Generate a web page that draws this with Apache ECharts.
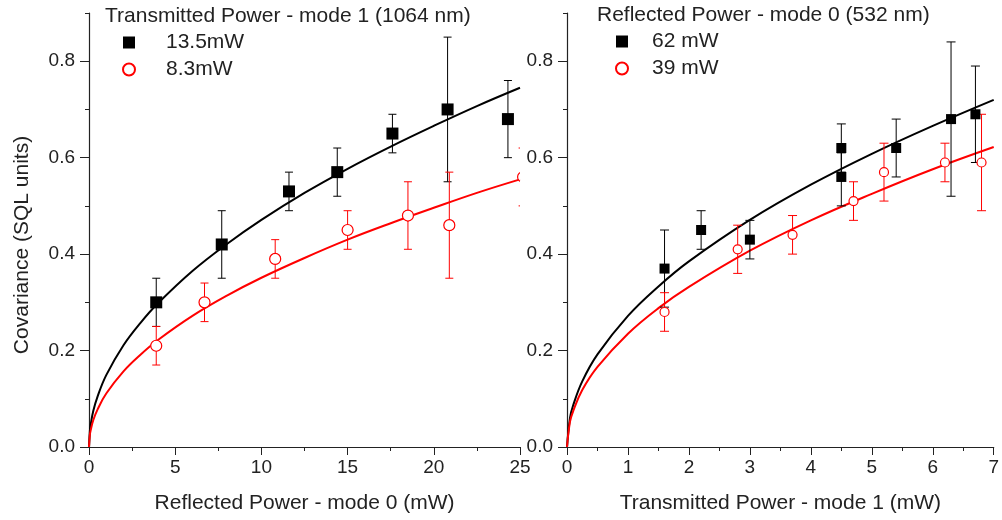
<!DOCTYPE html>
<html>
<head>
<meta charset="utf-8">
<script src="https://cdn.jsdelivr.net/npm/echarts@6/dist/echarts.min.js"></script>
<style>
  html, body { margin: 0; padding: 0; background: #fff; }
  #chart { width: 1002px; height: 520px; }
</style>
</head>
<body>
<div id="chart"></div>
<script>
// left panel: vs reflected power (mode 0)
const leftBlackX = [3.9, 7.7, 11.6, 14.4, 17.6, 20.8, 24.3]
const leftBlackY = [0.30, 0.42, 0.53, 0.57, 0.65, 0.70, 0.68]
const leftBlackLo = [0.25, 0.35, 0.49, 0.52, 0.61, 0.55, 0.60]
const leftBlackHi = [0.35, 0.49, 0.57, 0.62, 0.69, 0.85, 0.76]

const leftRedX = [3.9, 6.7, 10.8, 15.0, 18.5, 20.9, 25.15]
const leftRedY = [0.21, 0.30, 0.39, 0.45, 0.48, 0.46, 0.56]
const leftRedLo = [0.17, 0.26, 0.35, 0.41, 0.41, 0.35, 0.50]
const leftRedHi = [0.25, 0.34, 0.43, 0.49, 0.55, 0.57, 0.62]

// fit curves
const leftFitX = [0, 0.05, 0.1, 0.25, 0.5, 1, 2, 3, 4, 6, 8, 10, 12.5, 15, 17.5, 20, 22.5, 25]
const leftFitBlack = [0, 0.033, 0.047, 0.075, 0.105, 0.149, 0.211, 0.258, 0.298, 0.365, 0.421, 0.471, 0.527, 0.577, 0.623, 0.666, 0.707, 0.745]
const leftFitRed = [0, 0.025, 0.035, 0.056, 0.078, 0.111, 0.157, 0.192, 0.222, 0.272, 0.314, 0.351, 0.392, 0.430, 0.464, 0.496, 0.527, 0.555]

// right panel: vs transmitted power (mode 1)
const rightBlackX = [1.6, 2.2, 3.0, 4.5, 4.5, 5.4, 6.3, 6.7]
const rightBlackY = [0.37, 0.45, 0.43, 0.62, 0.56, 0.62, 0.68, 0.69]
const rightBlackLo = [0.29, 0.41, 0.39, 0.57, 0.50, 0.56, 0.52, 0.59]
const rightBlackHi = [0.45, 0.49, 0.47, 0.67, 0.61, 0.68, 0.84, 0.79]

const rightRedX = [1.6, 2.8, 3.7, 4.7, 5.2, 6.2, 6.8]
const rightRedY = [0.28, 0.41, 0.44, 0.51, 0.57, 0.59, 0.59]
const rightRedLo = [0.24, 0.36, 0.40, 0.47, 0.51, 0.55, 0.49]
const rightRedHi = [0.32, 0.46, 0.48, 0.55, 0.63, 0.63, 0.69]

const rightFitX = [0, 0.05, 0.1, 0.25, 0.5, 1, 1.5, 2, 3, 4, 5, 6, 7]
const rightFitBlack = [0, 0.061, 0.086, 0.136, 0.192, 0.272, 0.333, 0.385, 0.471, 0.544, 0.608, 0.666, 0.720]
const rightFitRed = [0, 0.053, 0.074, 0.118, 0.166, 0.235, 0.288, 0.332, 0.407, 0.470, 0.525, 0.576, 0.622]

const yMajorTicks = [0, 0.2, 0.4, 0.6, 0.8]

const FONT = "'Liberation Sans', Arial, sans-serif"
const TEXT = '#222'
const RED = '#ff0000'

const zip = (xs, ys) => xs.map((x, i) => [x, ys[i]])
const zip3 = (xs, a, b) => xs.map((x, i) => [x, a[i], b[i]])

// error bars (and optionally the marker) drawn with clipping to the grid
const errorBars = (idx, data, color, capW, marker) => ({
  type: 'custom',
  xAxisIndex: idx,
  yAxisIndex: idx * 2,
  clip: true,
  silent: true,
  z: 3,
  data,
  encode: { x: 0, y: [1, 2] },
  renderItem: (params, api) => {
    const x = api.value(0)
    const lo = api.coord([x, api.value(1)])
    const hi = api.coord([x, api.value(2)])
    const style = { stroke: color, lineWidth: 1 }
    const children = [
      { type: 'line', shape: { x1: lo[0], y1: lo[1], x2: hi[0], y2: hi[1] }, style },
      { type: 'line', shape: { x1: lo[0] - capW / 2, y1: lo[1], x2: lo[0] + capW / 2, y2: lo[1] }, style },
      { type: 'line', shape: { x1: hi[0] - capW / 2, y1: hi[1], x2: hi[0] + capW / 2, y2: hi[1] }, style }
    ]
    if (marker) {
      const c = api.coord([x, marker[params.dataIndex]])
      children.push({
        type: 'circle',
        shape: { cx: c[0], cy: c[1], r: 5 },
        style: { fill: '#fff', stroke: color, lineWidth: 1.2 },
        z2: 10
      })
    }
    return { type: 'group', children }
  }
})

const fitLine = (idx, data, color) => ({
  type: 'line',
  xAxisIndex: idx,
  yAxisIndex: idx * 2,
  data,
  smooth: 0.4,
  showSymbol: false,
  silent: true,
  z: 2,
  lineStyle: { color, width: 2 }
})

const xAxisBase = (idx, max, interval) => ({
  type: 'value',
  gridIndex: idx,
  min: 0,
  max,
  interval,
  axisLine: { lineStyle: { color: TEXT, width: 1.2 } },
  axisTick: { length: 8, lineStyle: { color: TEXT } },
  minorTick: { show: true, splitNumber: 2, length: 4, lineStyle: { color: TEXT } },
  splitLine: { show: false },
  axisLabel: { color: TEXT, fontSize: 19, fontFamily: FONT, margin: 11 },
  nameLocation: 'middle',
  nameGap: 46,
  nameTextStyle: { color: TEXT, fontSize: 21, fontFamily: FONT }
})

// minor ticks every 0.1 + labels; a second axis carries the long major ticks
const yAxisMinor = (idx, name) => ({
  type: 'value',
  gridIndex: idx,
  position: 'left',
  min: 0,
  max: 0.9,
  interval: 0.1,
  name,
  nameLocation: 'middle',
  nameGap: 56,
  nameTextStyle: { color: TEXT, fontSize: 21, fontFamily: FONT, padding: [0, 30, 0, 0] },
  axisLine: { show: true, lineStyle: { color: TEXT, width: 1.2 } },
  axisTick: { length: 4, lineStyle: { color: TEXT } },
  splitLine: { show: false },
  axisLabel: {
    customValues: yMajorTicks,
    color: TEXT, fontSize: 19, fontFamily: FONT, margin: 14,
    formatter: v => v.toFixed(1)
  }
})

const yAxisMajor = idx => ({
  type: 'value',
  gridIndex: idx,
  position: 'left',
  min: 0,
  max: 0.9,
  axisLine: { show: false },
  axisTick: { show: true, length: 9, customValues: yMajorTicks, lineStyle: { color: TEXT } },
  axisLabel: { show: false },
  splitLine: { show: false }
})

const legendBase = (idx, names, left, top, pad) => ({
  orient: 'vertical',
  left,
  top,
  itemWidth: 12,
  itemHeight: 12,
  itemGap: 6,
  padding: 0,
  data: names,
  selectedMode: false,
  textStyle: { color: TEXT, fontSize: 21, fontFamily: FONT, padding: [0, 0, 0, pad] }
})

const chart = echarts.init(document.getElementById('chart'))

const option = {
  animation: false,
  backgroundColor: '#fff',
  title: [
    {
      text: 'Transmitted Power - mode 1 (1064 nm)',
      left: 105, top: 6, padding: 0,
      textStyle: { color: TEXT, fontSize: 21, fontWeight: 'normal', fontFamily: FONT }
    },
    {
      text: 'Reflected Power - mode 0 (532 nm)',
      left: 597, top: 5, padding: 0,
      textStyle: { color: TEXT, fontSize: 21, fontWeight: 'normal', fontFamily: FONT }
    }
  ],
  legend: [
    legendBase(0, ['13.5mW', '8.3mW'], 122, 32, 26),
    legendBase(1, ['62 mW', '39 mW'], 615, 31, 19)
  ],
  grid: [
    { left: 89, top: 13, width: 431, height: 434, containLabel: false },
    { left: 567, top: 13, width: 428, height: 434, containLabel: false }
  ],
  xAxis: [
    Object.assign(xAxisBase(0, 25, 5), { name: 'Reflected Power - mode 0 (mW)' }),
    Object.assign(xAxisBase(1, 7, 1), { name: 'Transmitted Power - mode 1 (mW)' })
  ],
  yAxis: [
    yAxisMinor(0, 'Covariance (SQL units)'),
    yAxisMajor(0),
    yAxisMinor(1, ''),
    yAxisMajor(1)
  ],
  series: [
    fitLine(0, zip(leftFitX, leftFitBlack), '#000'),
    fitLine(0, zip(leftFitX, leftFitRed), RED),
    errorBars(0, zip3(leftBlackX, leftBlackLo, leftBlackHi), '#000', 8),
    errorBars(0, zip3(leftRedX, leftRedLo, leftRedHi), RED, 8, leftRedY),
    {
      name: '13.5mW', type: 'scatter', xAxisIndex: 0, yAxisIndex: 0, z: 5,
      data: zip(leftBlackX, leftBlackY), symbol: 'rect', symbolSize: 12,
      itemStyle: { color: '#000', opacity: 1 }
    },
    {
      name: '8.3mW', type: 'scatter', xAxisIndex: 0, yAxisIndex: 0, z: 5,
      data: zip(leftRedX, leftRedY), symbol: 'circle', symbolSize: 11,
      itemStyle: { color: '#fff', borderColor: RED, borderWidth: 1.2, opacity: 1 }
    },

    fitLine(1, zip(rightFitX, rightFitBlack), '#000'),
    fitLine(1, zip(rightFitX, rightFitRed), RED),
    errorBars(1, zip3(rightBlackX, rightBlackLo, rightBlackHi), '#000', 9),
    errorBars(1, zip3(rightRedX, rightRedLo, rightRedHi), RED, 9),
    {
      name: '62 mW', type: 'scatter', xAxisIndex: 1, yAxisIndex: 2, z: 5,
      data: zip(rightBlackX, rightBlackY), symbol: 'rect', symbolSize: 10,
      itemStyle: { color: '#000', opacity: 1 }
    },
    {
      name: '39 mW', type: 'scatter', xAxisIndex: 1, yAxisIndex: 2, z: 5,
      data: zip(rightRedX, rightRedY), symbol: 'circle', symbolSize: 9,
      itemStyle: { color: '#fff', borderColor: RED, borderWidth: 1.2, opacity: 1 }
    }
  ]
}

chart.setOption(option)
</script>
</body>
</html>
